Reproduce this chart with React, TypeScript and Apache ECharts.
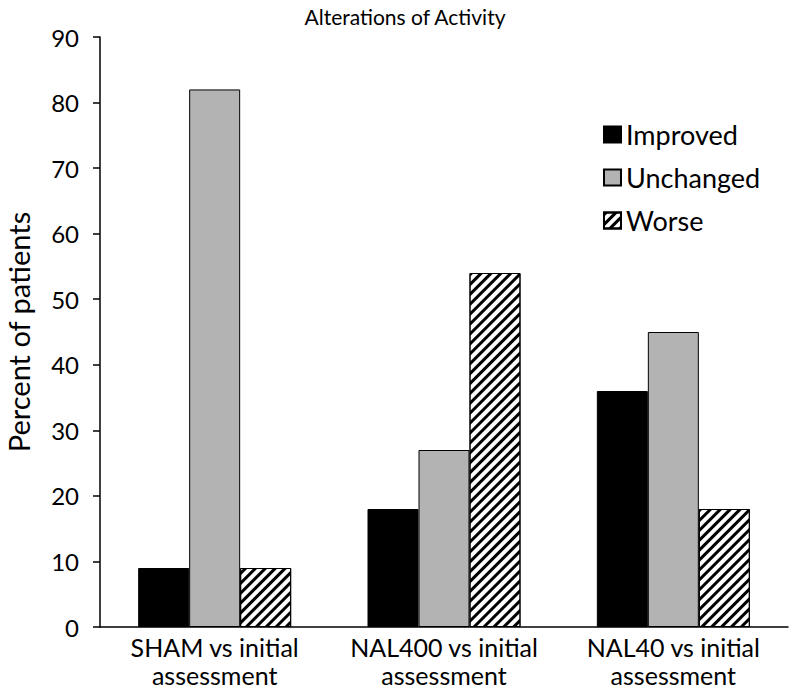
import React, { useEffect, useRef } from "react";
import * as echarts from "echarts";

const categories = ["SHAM vs initial\nassessment", "NAL400 vs initial\nassessment", "NAL40 vs initial\nassessment"];
const improved = [9, 18, 36];
const unchanged = [82, 27, 45];
const worse = [9, 54, 18];
const seriesNames = ["Improved", "Unchanged", "Worse"];

const FONT = "Lato, 'Open Sans', sans-serif";

export default function App() {
  const ref = useRef<HTMLDivElement>(null);
  useEffect(() => {
    if (!ref.current) return;
    const chart = echarts.init(ref.current, null, { renderer: "svg" });
    chart.setOption({
      animation: false,
      backgroundColor: "#fff",
      title: {
        text: "Alterations of Activity",
        left: 400,
        textAlign: "center",
        top: 1,
        textStyle: { fontFamily: FONT, fontSize: 21, fontWeight: "normal", color: "#000" },
      },
      legend: {
        orient: "vertical",
        left: 598,
        top: 116,
        itemGap: 16,
        itemWidth: 17,
        itemHeight: 16,
        icon: "rect",
        data: seriesNames,
        textStyle: { fontFamily: FONT, fontSize: 27, color: "#000" },
      },
      grid: { left: 100, right: 12, top: 37, bottom: 66, outerBoundsMode: "none", containLabel: false },
      xAxis: {
        type: "category",
        data: categories,
        axisLine: { lineStyle: { color: "#000", width: 1.5 } },
        axisTick: { show: false },
        axisLabel: { interval: 0, fontFamily: FONT, fontSize: 25, color: "#000", lineHeight: 28, margin: 6 },
      },
      yAxis: {
        type: "value",
        min: 0,
        max: 90,
        interval: 10,
        name: "Percent of patients",
        nameLocation: "middle",
        nameGap: 67,
        nameTextStyle: { fontFamily: FONT, fontSize: 29, color: "#000" },
        axisLine: { show: true, lineStyle: { color: "#000", width: 1.5 } },
        axisTick: { show: true, length: 7, lineStyle: { color: "#000", width: 1.5 } },
        splitLine: { show: false },
        axisLabel: { fontFamily: FONT, fontSize: 24, color: "#000", margin: 21 },
      },
      series: [
        {
          name: "Improved",
          type: "bar",
          data: improved,
          barWidth: 51,
          barGap: "0%",
          itemStyle: { color: "#000", borderColor: "#000", borderWidth: 1 },
        },
        {
          name: "Unchanged",
          type: "bar",
          data: unchanged,
          barWidth: 51,
          barGap: "0%",
          itemStyle: { color: "#b3b3b3", borderColor: "#000", borderWidth: 1 },
        },
        {
          name: "Worse",
          type: "bar",
          data: worse,
          barWidth: 51,
          barGap: "0%",
          itemStyle: {
            color: "#fff",
            borderColor: "#000",
            borderWidth: 1,
            decal: {
              symbol: "rect",
              color: "#000",
              backgroundColor: "#fff",
              dashArrayX: [1, 0],
              dashArrayY: [3, 4],
              rotation: -Math.PI / 4,
            },
          },
        },
      ],
    });
    return () => chart.dispose();
  }, []);
  return <div ref={ref} style={{ width: 800, height: 693, margin: -8 }} />;
}
